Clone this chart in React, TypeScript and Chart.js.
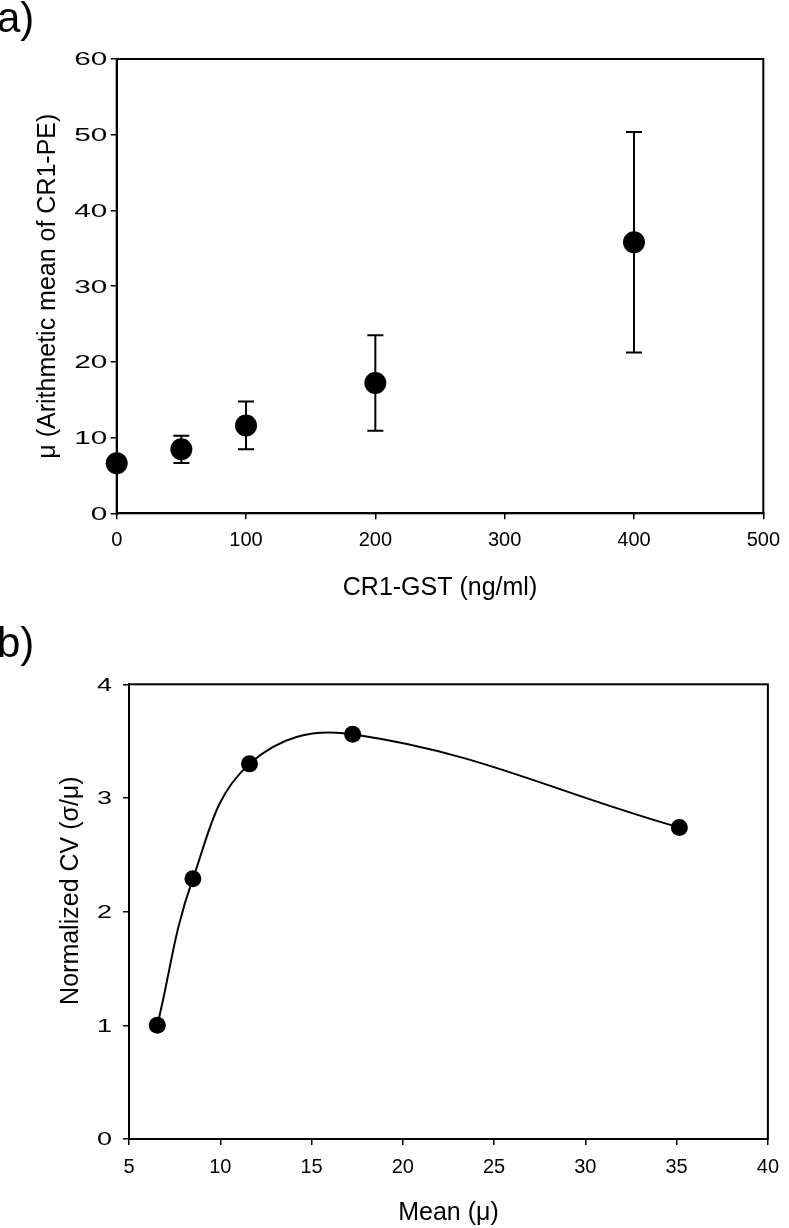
import React, { useEffect, useRef } from 'react';
import { Chart, registerables } from 'chart.js';

Chart.register(...registerables);

const FONT = '"Liberation Sans", Arial, Helvetica, sans-serif';

// Panel a: CR1-GST concentration vs arithmetic mean of CR1-PE (± error)
const concentrations = [0, 50, 100, 200, 400];
const meanPE = [6.6, 8.45, 11.6, 17.2, 35.8];
const errorPE = [0.5, 1.8, 3.15, 6.3, 14.55];

// Panel b: Mean (mu) vs normalized CV (sigma/mu)
const meanMu = [6.55, 8.5, 11.6, 17.25, 35.15];
const normalizedCV = [1.0, 2.29, 3.3, 3.56, 2.74];

const framePlugin = {
  id: 'frame',
  afterDraw(chart: any) {
    const { ctx, chartArea } = chart;
    ctx.save();
    ctx.strokeStyle = '#000';
    ctx.lineWidth = 2;
    ctx.strokeRect(chartArea.left, chartArea.top, chartArea.right - chartArea.left, chartArea.bottom - chartArea.top);
    ctx.restore();
  },
};

// y tick labels in the reference are drawn horizontally widened
const wideYTicksPlugin = {
  id: 'wideYTicks',
  afterDraw(chart: any, _args: any, opts: any) {
    const { ctx, scales } = chart;
    const y = scales.y;
    const size = opts.size || 18;
    ctx.save();
    ctx.fillStyle = '#000';
    ctx.font = `${size}px ${FONT}`;
    ctx.textAlign = 'right';
    ctx.textBaseline = 'alphabetic';
    y.ticks.forEach((t: any) => {
      const py = y.getPixelForValue(t.value);
      ctx.save();
      ctx.translate(y.right - opts.gap, py + size * 0.358);
      ctx.scale(opts.scaleX, 1);
      ctx.fillText(String(t.value), 0, 0);
      ctx.restore();
    });
    ctx.restore();
  },
};

// rotated y title placed with an offset from the axis centre
const yTitlePlugin = {
  id: 'yTitle',
  afterDraw(chart: any, _args: any, opts: any) {
    if (!opts || !opts.text) return;
    const { ctx, chartArea } = chart;
    ctx.save();
    ctx.fillStyle = '#000';
    ctx.font = `${opts.size}px ${FONT}`;
    ctx.textAlign = 'center';
    ctx.textBaseline = 'middle';
    ctx.translate(opts.x, (chartArea.top + chartArea.bottom) / 2 + opts.dy);
    ctx.rotate(-Math.PI / 2);
    ctx.fillText(opts.text, 0, 0);
    ctx.restore();
  },
};

const errorBarPlugin = {
  id: 'errorBars',
  beforeDatasetsDraw(chart: any) {
    const { ctx, scales } = chart;
    const ds = chart.data.datasets[0];
    const errs: number[] = ds.errors || [];
    ctx.save();
    ctx.strokeStyle = '#000';
    ctx.lineWidth = 2;
    ds.data.forEach((p: any, i: number) => {
      const e = errs[i];
      if (e == null) return;
      const x = scales.x.getPixelForValue(p.x);
      const yTop = scales.y.getPixelForValue(p.y + e);
      const yBot = scales.y.getPixelForValue(p.y - e);
      const cap = 8;
      ctx.beginPath();
      ctx.moveTo(x, yTop);
      ctx.lineTo(x, yBot);
      ctx.moveTo(x - cap, yTop);
      ctx.lineTo(x + cap, yTop);
      ctx.moveTo(x - cap, yBot);
      ctx.lineTo(x + cap, yBot);
      ctx.stroke();
    });
    ctx.restore();
  },
};

function axis(opts: any) {
  return {
    type: 'linear',
    min: opts.min,
    max: opts.max,
    ticks: {
      display: opts.showTicks !== false,
      stepSize: opts.step,
      color: '#000',
      font: { family: FONT, size: 20 },
      padding: opts.tickPad,
    },
    grid: {
      drawOnChartArea: false,
      drawTicks: true,
      tickLength: 6,
      color: '#000',
      lineWidth: 1.5,
    },
    border: { display: true, color: '#000', width: 2 },
    title: {
      display: !!opts.title,
      text: opts.title,
      color: '#000',
      font: { family: FONT, size: 25 },
      padding: opts.titlePad,
    },
    afterFit: opts.afterFit,
  };
}

function PanelA() {
  const ref = useRef<HTMLCanvasElement>(null);
  useEffect(() => {
    const chart = new Chart(ref.current as HTMLCanvasElement, {
      type: 'scatter',
      data: {
        datasets: [
          {
            data: concentrations.map((c, i) => ({ x: c, y: meanPE[i] })),
            errors: errorPE,
            pointRadius: 11,
            pointHoverRadius: 11,
            pointBackgroundColor: '#000',
            pointBorderColor: '#000',
            pointBorderWidth: 0,
            clip: false,
          } as any,
        ],
      },
      options: {
        animation: false,
        responsive: false,
        events: [],
        layout: { padding: { top: 59, right: 24, bottom: 0.7, left: 0 } },
        plugins: {
          legend: { display: false },
          tooltip: { enabled: false },
          wideYTicks: { scaleX: 1.65, size: 18, gap: 9.5 },
        } as any,
        scales: {
          x: axis({
            min: 0, max: 500, step: 100, tickPad: 9, title: 'CR1-GST (ng/ml)',
            titlePad: { top: 0, bottom: 10.4 },
            afterFit: (s: any) => { s.height = 100; },
          }),
          y: axis({
            min: 0, max: 60, step: 10, showTicks: false, title: 'μ (Arithmetic mean of CR1-PE)',
            titlePad: { top: 33, bottom: 0 },
            afterFit: (s: any) => { s.width = 116.7; },
          }),
        } as any,
      },
      plugins: [errorBarPlugin, framePlugin, wideYTicksPlugin],
    });
    return () => chart.destroy();
  }, []);
  return <canvas ref={ref} width={789} height={614} style={{ position: 'absolute', left: 0, top: 0, display: 'block' }} />;
}

function PanelB() {
  const ref = useRef<HTMLCanvasElement>(null);
  useEffect(() => {
    const chart = new Chart(ref.current as HTMLCanvasElement, {
      type: 'line',
      data: {
        datasets: [
          {
            data: meanMu.map((m, i) => ({ x: m, y: normalizedCV[i] })),
            borderColor: '#000',
            borderWidth: 2,
            tension: 0.4,
            fill: false,
            pointRadius: 8.5,
            pointHoverRadius: 8.5,
            pointBackgroundColor: '#000',
            pointBorderColor: '#000',
            pointBorderWidth: 0,
            clip: false,
          } as any,
        ],
      },
      options: {
        animation: false,
        responsive: false,
        events: [],
        layout: { padding: { top: 70.3, right: 11.7, bottom: 0, left: 0 } },
        plugins: {
          legend: { display: false },
          tooltip: { enabled: false },
          wideYTicks: { scaleX: 1.5, size: 18, gap: 17 },
          yTitle: { text: 'Normalized CV (σ/μ)', size: 25, x: 71, dy: -21 },
        } as any,
        scales: {
          x: axis({
            min: 5, max: 40, step: 5, tickPad: 10, title: 'Mean (μ)',
            titlePad: { top: 0, bottom: 0 },
            afterFit: (s: any) => { s.height = 89; },
          }),
          y: axis({
            min: 0, max: 4, step: 1, showTicks: false, title: '',
            afterFit: (s: any) => { s.width = 129; },
          }),
        } as any,
      },
      plugins: [framePlugin, wideYTicksPlugin, yTitlePlugin],
    });
    return () => chart.destroy();
  }, []);
  return <canvas ref={ref} width={789} height={614} style={{ position: 'absolute', left: 0, top: 614, display: 'block' }} />;
}

const labelStyle: React.CSSProperties = {
  position: 'absolute',
  left: -3,
  fontFamily: FONT,
  fontSize: 42,
  lineHeight: 1,
  color: '#000',
  whiteSpace: 'nowrap',
};

export default function App() {
  return (
    <div style={{ position: 'absolute', left: 0, top: 0, width: 789, height: 1228, background: '#fff', overflow: 'hidden' }}>
      <PanelA />
      <PanelB />
      <div style={{ ...labelStyle, top: -3.5 }}>a)</div>
      <div style={{ ...labelStyle, top: 621.5 }}>b)</div>
    </div>
  );
}
